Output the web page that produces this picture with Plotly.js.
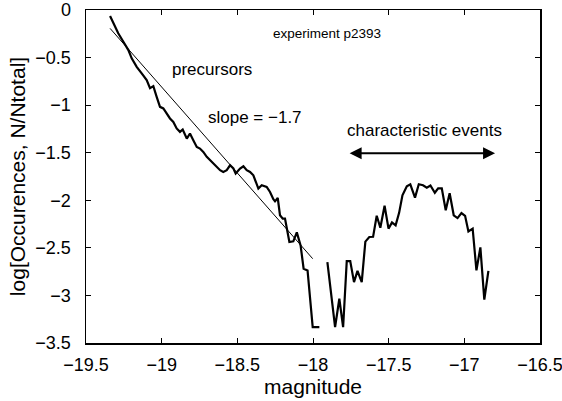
<!DOCTYPE html>
<html>
<head>
<meta charset="utf-8">
<script src="https://cdn.plot.ly/plotly-3.0.1.min.js"></script>
<style>html,body{margin:0;padding:0;background:#fff;}#chart{width:562px;height:401px;}</style>
</head>
<body>
<div id="chart"></div>
<script>
// Precursor distribution
const precX = [-19.341,-19.320,-19.287,-19.253,-19.220,-19.198,-19.165,-19.132,-19.099,-19.077,-19.055,-19.033,-19.011,-18.989,-18.967,-18.945,-18.923,-18.901,-18.879,-18.861,-18.834,-18.813,-18.791,-18.768,-18.747,-18.725,-18.702,-18.680,-18.659,-18.636,-18.614,-18.593,-18.570,-18.548,-18.526,-18.511,-18.482,-18.460,-18.438,-18.416,-18.394,-18.361,-18.339,-18.306,-18.284,-18.262,-18.251,-18.233,-18.218,-18.200,-18.185,-18.156,-18.130,-18.107,-18.082,-18.062,-18.036,-18.002,-17.958];
const precY = [-0.063,-0.140,-0.245,-0.334,-0.421,-0.508,-0.597,-0.666,-0.737,-0.821,-0.800,-0.913,-1.018,-1.035,-1.087,-1.140,-1.176,-1.245,-1.281,-1.256,-1.351,-1.298,-1.368,-1.439,-1.456,-1.492,-1.544,-1.579,-1.614,-1.649,-1.684,-1.702,-1.684,-1.632,-1.666,-1.719,-1.666,-1.642,-1.684,-1.702,-1.737,-1.877,-1.842,-1.860,-1.913,-1.989,-2.011,-1.976,-2.158,-2.193,-2.193,-2.439,-2.432,-2.337,-2.474,-2.719,-2.737,-3.334,-3.334];
// Characteristic events distribution
const charX = [-17.905,-17.854,-17.826,-17.801,-17.777,-17.754,-17.729,-17.706,-17.678,-17.654,-17.628,-17.603,-17.579,-17.555,-17.527,-17.501,-17.478,-17.454,-17.431,-17.409,-17.380,-17.357,-17.326,-17.301,-17.273,-17.248,-17.224,-17.195,-17.173,-17.149,-17.123,-17.097,-17.070,-17.045,-17.019,-16.995,-16.973,-16.945,-16.920,-16.894,-16.868,-16.841];
const charY = [-2.649,-3.334,-3.035,-3.334,-2.639,-2.639,-2.860,-2.742,-2.860,-2.434,-2.386,-2.384,-2.163,-2.289,-2.058,-2.298,-2.232,-2.263,-2.132,-1.947,-1.853,-1.832,-1.972,-1.832,-1.842,-1.868,-1.845,-1.921,-1.874,-1.874,-2.105,-1.926,-2.158,-2.187,-2.134,-2.163,-2.328,-2.298,-2.737,-2.495,-3.044,-2.742];
// Power-law fit line
const fitX = [-19.341, -18.002];
const fitY = [-0.193, -2.614];
// Axis ticks
const xTicks = [-19.5,-19,-18.5,-18,-17.5,-17,-16.5];
const yTicks = [0,-0.5,-1,-1.5,-2,-2.5,-3,-3.5];
// Arrow span for characteristic events
const arrowX = [-17.768, -16.797];
const arrowY = -1.505;

const font = "Liberation Sans, Arial, Helvetica, sans-serif";
const traces = [
  {x: fitX, y: fitY, mode: 'lines', line: {color: '#000', width: 1}, hoverinfo: 'skip'},
  {x: precX, y: precY, mode: 'lines', line: {color: '#000', width: 2.2}},
  {x: charX, y: charY, mode: 'lines', line: {color: '#000', width: 2.2}}
];
const axisCommon = {
  showgrid: false, zeroline: false, showline: true, linecolor: '#000', linewidth: 1.5,
  mirror: 'ticks', ticks: 'inside', ticklen: 5, tickwidth: 1, tickcolor: '#000',
  ticklabeloverflow: 'allow',
  tickfont: {family: font, size: 18, color: '#000'}
};
const layout = {
  width: 562, height: 401,
  margin: {l: 86, r: 22, t: 10, b: 58},
  paper_bgcolor: '#fff', plot_bgcolor: '#fff',
  showlegend: false,
  xaxis: Object.assign({}, axisCommon, {
    range: [-19.5, -16.5], tickvals: xTicks, ticktext: xTicks.map(v => String(v).replace('-', '\u2212')),
    ticklabelstandoff: 5,
    title: {text: 'magnitude', font: {family: font, size: 21, color: '#000'}, standoff: 2}
  }),
  yaxis: Object.assign({}, axisCommon, {
    range: [-3.5, 0], tickvals: yTicks, ticktext: yTicks.map(v => String(v).replace('-', '\u2212')),
    ticklabelstandoff: 10,
    title: {text: 'log[Occurences, N/Ntotal]', font: {family: font, size: 21, color: '#000'}, standoff: 4}
  }),
  annotations: [
    {x: -17.907, y: -0.242, xref: 'x', yref: 'y', text: 'experiment p2393', showarrow: false, font: {family: font, size: 13.5, color: '#000'}},
    {x: -18.667, y: -0.621, xref: 'x', yref: 'y', text: 'precursors', showarrow: false, font: {family: font, size: 17, color: '#000'}},
    {x: -18.382, y: -1.130, xref: 'x', yref: 'y', text: 'slope = \u22121.7', showarrow: false, font: {family: font, size: 17, color: '#000'}},
    {x: -17.266, y: -1.263, xref: 'x', yref: 'y', text: 'characteristic events', showarrow: false, font: {family: font, size: 17, color: '#000'}},
    {x: arrowX[1], y: arrowY, ax: arrowX[0], ay: arrowY, xref: 'x', yref: 'y', axref: 'x', ayref: 'y',
     text: '', showarrow: true, arrowside: 'end+start', arrowhead: 2, arrowsize: 1.2, arrowwidth: 2, arrowcolor: '#000'}
  ]
};
Plotly.newPlot('chart', traces, layout, {displayModeBar: false, staticPlot: true});
</script>
</body>
</html>
